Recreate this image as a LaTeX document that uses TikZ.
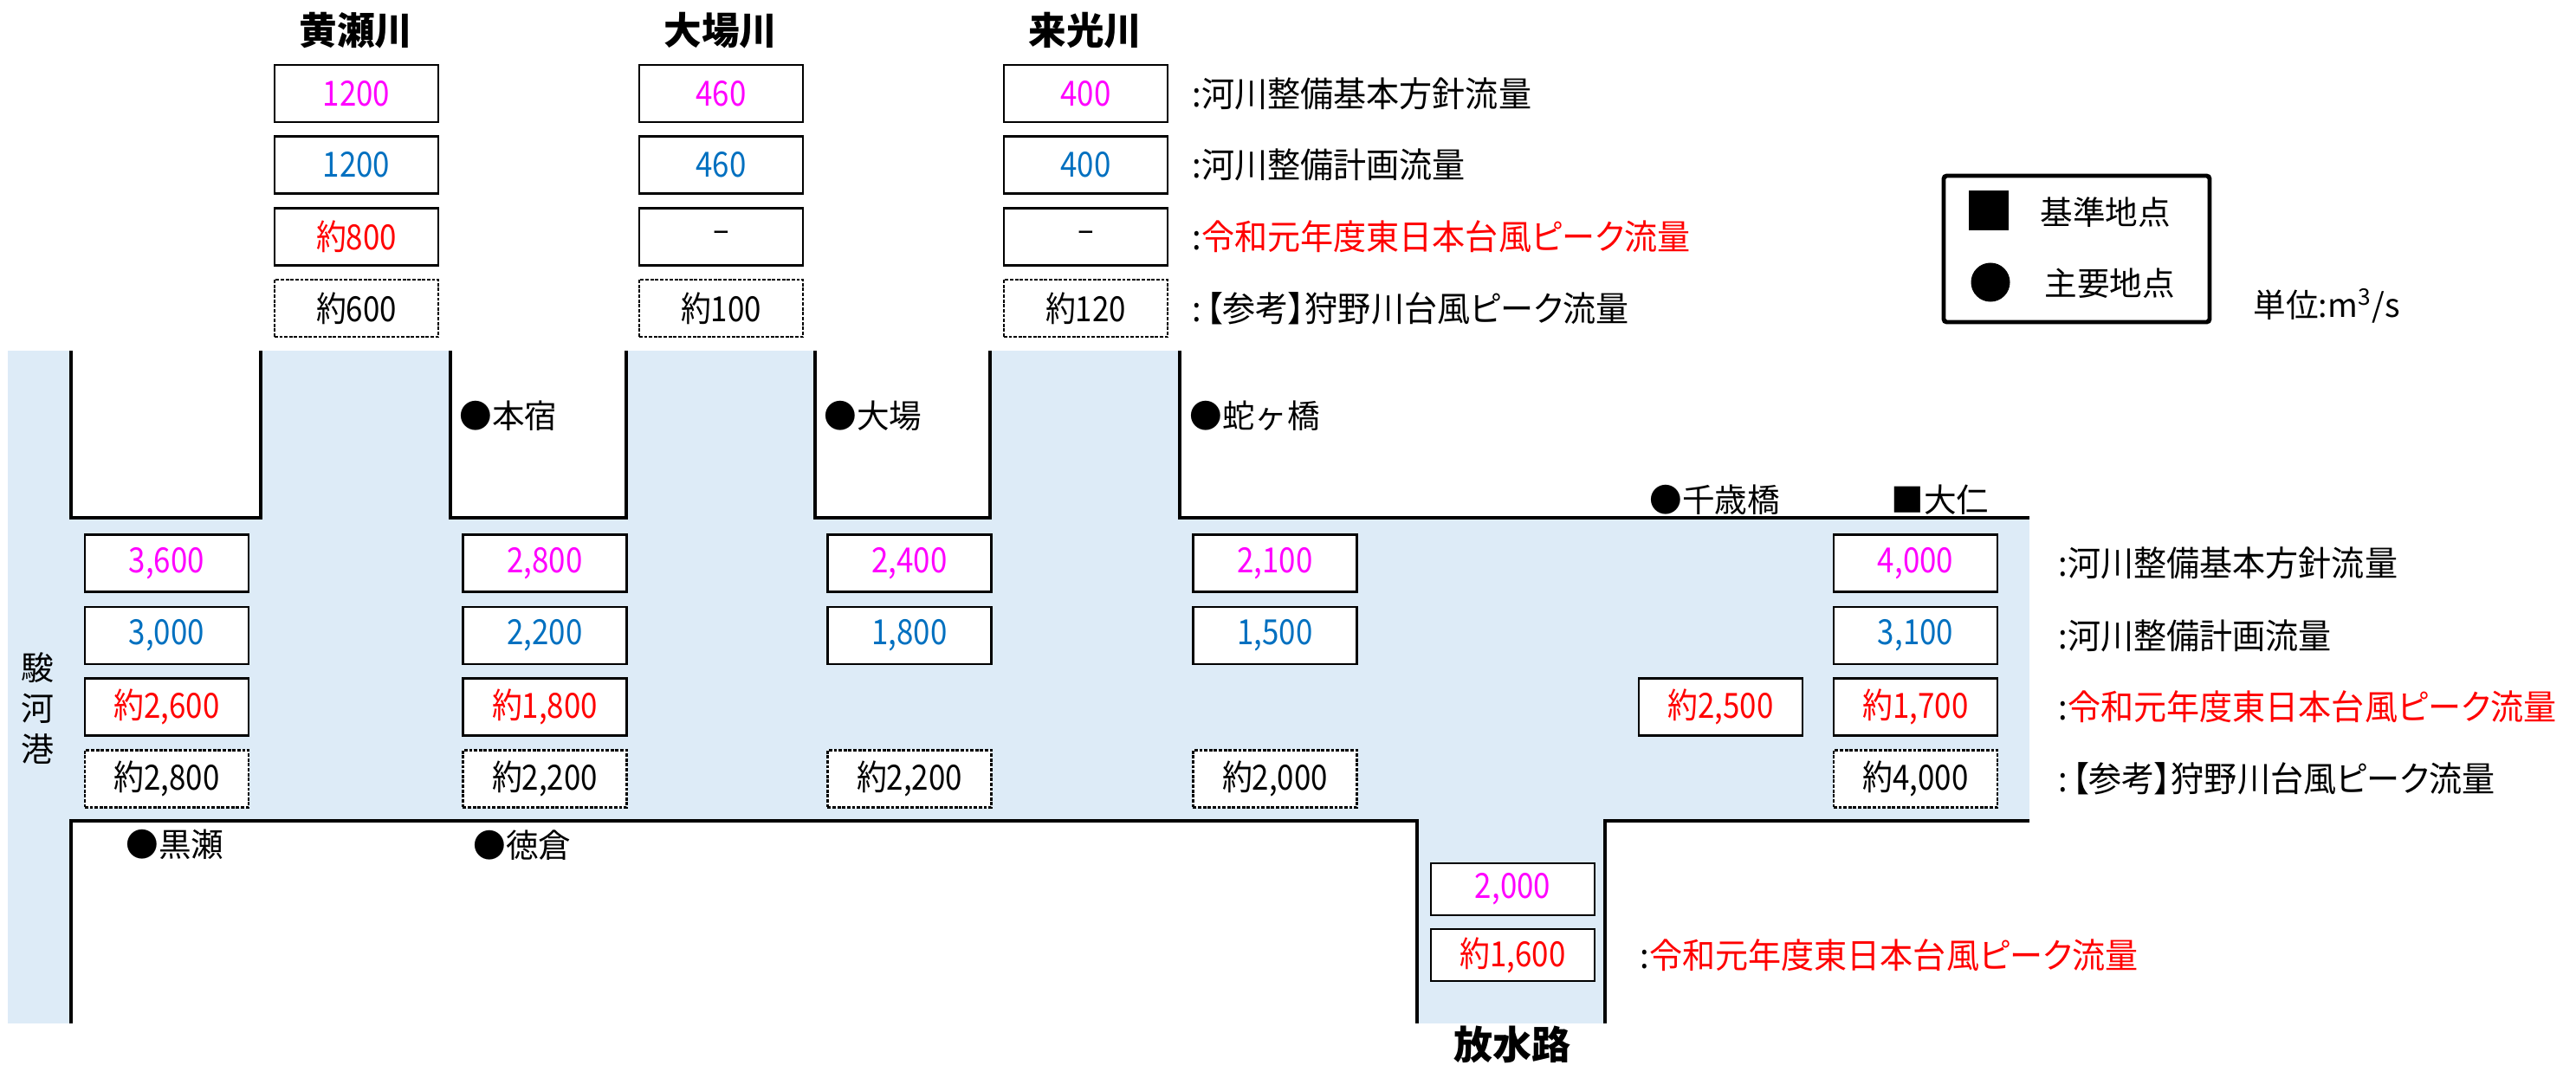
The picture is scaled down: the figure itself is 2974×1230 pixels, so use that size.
\documentclass[tikz,border=0pt]{standalone}
\usepackage{fontspec}
\setmainfont{Noto Sans CJK JP}
\newfontfamily\lblfam{Noto Sans CJK JP}[FakeStretch=0.95, RawFeature=+palt]
\newfontfamily\valfam{Noto Sans CJK JP}[FakeStretch=0.87]
\definecolor{mag}{HTML}{FF00FF}
\definecolor{pblue}{HTML}{0070C0}
\definecolor{pred}{HTML}{FF0000}
\definecolor{water}{HTML}{DDEBF7}
\newcommand\myval{\valfam\fontsize{11.4}{12}\selectfont}
\newcommand\mylbl{\lblfam\fontsize{11.4}{13}\selectfont}
\newcommand\mystn{\fontsize{10.7}{12}\selectfont}
\newcommand\myttl{\fontsize{12.4}{14}\selectfont\bfseries}
\tikzset{
  vbox/.style={draw=black, line width=0.8pt, fill=white, minimum width=1.89cm, minimum height=0.66cm, inner sep=0pt, font=\myval},
  dbox/.style={vbox, dash pattern=on 1.1pt off 0.5pt},
  sbox/.style={vbox, minimum height=0.60cm},
  wall/.style={line width=1.3pt},
  lbl/.style={anchor=west, inner sep=0pt, font=\mylbl},
  stn/.style={anchor=west, inner sep=0pt, font=\mystn},
  ttl/.style={inner sep=0pt, font=\myttl},
}
\begin{document}
\begin{tikzpicture}[x=0.01cm,y=-0.01cm]
\useasboundingbox (0,0) rectangle (2974,1230);
% water
\fill[water] (9,405) rectangle (2343,1182);
\fill[white] (82,405) rectangle (301,598);
\fill[white] (520,405) rectangle (723,598);
\fill[white] (941,405) rectangle (1143,598);
\fill[white] (1362,405) rectangle (2343,598);
\fill[white] (82,948) rectangle (1636,1182);
\fill[white] (1853,948) rectangle (2343,1182);
% walls
\draw[wall] (82,405) -- (82,598) -- (301,598) -- (301,405);
\draw[wall] (520,405) -- (520,598) -- (723,598) -- (723,405);
\draw[wall] (941,405) -- (941,598) -- (1143,598) -- (1143,405);
\draw[wall] (1362,405) -- (1362,598) -- (2343,598);
\draw[wall] (82,1182) -- (82,948) -- (1636,948) -- (1636,1182);
\draw[wall] (1853,1182) -- (1853,948) -- (2343,948);

% titles
\node[ttl] (tkise) at (411,35) {黄瀬川};
\node[ttl] (tooba) at (832,35) {大場川};
\node[ttl] (traiko) at (1253,35) {来光川};
\node[ttl, font=\fontsize{12.8}{14}\selectfont\bfseries] (thousui) at (1746,1206) {放水路};

% top boxes
\node[vbox, text=mag] (k1) at (411.5,108) {1200};
\node[vbox, text=pblue] (k2) at (411.5,190.5) {1200};
\node[vbox, text=pred] (k3) at (411.5,273.5) {約800};
\node[dbox] (k4) at (411.5,356) {約600};
\node[vbox, text=mag] (o1) at (832.5,108) {460};
\node[vbox, text=pblue] (o2) at (832.5,190.5) {460};
\node[vbox] (o3) at (832.5,273.5) {–};
\node[dbox] (o4) at (832.5,356) {約100};
\node[vbox, text=mag] (r1) at (1253.5,108) {400};
\node[vbox, text=pblue] (r2) at (1253.5,190.5) {400};
\node[vbox] (r3) at (1253.5,273.5) {–};
\node[dbox] (r4) at (1253.5,356) {約120};

% top labels
\node[lbl] (tl1) at (1376,108) {:河川整備基本方針流量};
\node[lbl] (tl2) at (1376,190.5) {:河川整備計画流量};
\node[lbl] (tl3) at (1376,273.5) {:\textcolor{pred}{令和元年度東日本台風ピーク流量}};
\node[lbl] (tl4) at (1376,356) {:\kern1.5pt【参考】狩野川台風ピーク流量};

% legend
\draw[line width=1.4pt, rounded corners=1pt] (2244,203) rectangle (2551,372);
\node[fill=black, inner sep=0pt, minimum size=0.46cm] (lsq) at (2296,243) {};
\node[fill=black, circle, inner sep=0pt, minimum size=0.45cm] (lci) at (2298,326) {};
\node[stn] (lt1) at (2355,245) {基準地点};
\node[stn] (lt2) at (2360,327) {主要地点};
\node[stn] (unit) at (2601,353) {単位:m\textsuperscript{3}/s};

% stations
\node[stn] (s1) at (530,480) {●本宿};
\node[stn] (s2) at (951,480) {●大場};
\node[stn] (s3) at (1373,480) {●蛇ヶ橋};
\node[stn] (s4) at (1904,577) {●千歳橋};
\node[stn] (s5) at (2183,577) {■大仁};
\node[stn] (s6) at (145,975) {●黒瀬};
\node[stn] (s7) at (546,976) {●徳倉};

% port
\node[inner sep=0pt, align=center, font=\fontsize{10.8}{13.4}\selectfont] (port) at (43,818) {駿\\河\\港};

% middle boxes
\node[vbox, text=mag] (a1) at (192.5,650.5) {3,600};
\node[vbox, text=pblue] (a2) at (192.5,734) {3,000};
\node[vbox, text=pred] (a3) at (192.5,816.5) {約2,600};
\node[dbox] (a4) at (192.5,899.5) {約2,800};
\node[vbox, text=mag] (b1) at (629,650.5) {2,800};
\node[vbox, text=pblue] (b2) at (629,734) {2,200};
\node[vbox, text=pred] (b3) at (629,816.5) {約1,800};
\node[dbox] (b4) at (629,899.5) {約2,200};
\node[vbox, text=mag] (c1) at (1050,650.5) {2,400};
\node[vbox, text=pblue] (c2) at (1050,734) {1,800};
\node[dbox] (c4) at (1050,899.5) {約2,200};
\node[vbox, text=mag] (d1) at (1472,650.5) {2,100};
\node[vbox, text=pblue] (d2) at (1472,734) {1,500};
\node[dbox] (d4) at (1472,899.5) {約2,000};
\node[vbox, text=pred] (e3) at (1986.5,816.5) {約2,500};
\node[vbox, text=mag] (f1) at (2211.5,650.5) {4,000};
\node[vbox, text=pblue] (f2) at (2211.5,734) {3,100};
\node[vbox, text=pred] (f3) at (2211.5,816.5) {約1,700};
\node[dbox] (f4) at (2211.5,899.5) {約4,000};

% right labels
\node[lbl] (rl1) at (2376,650.5) {:河川整備基本方針流量};
\node[lbl] (rl2) at (2376,734) {:河川整備計画流量};
\node[lbl] (rl3) at (2376,816.5) {:\textcolor{pred}{令和元年度東日本台風ピーク流量}};
\node[lbl] (rl4) at (2376,899.5) {:\kern1.5pt【参考】狩野川台風ピーク流量};

% discharge channel
\node[sbox, text=mag] (h1) at (1746.5,1027) {2,000};
\node[sbox, text=pred] (h2) at (1746.5,1103) {約1,600};
\node[lbl] (hl) at (1893,1103) {:\textcolor{pred}{令和元年度東日本台風ピーク流量}};
\end{tikzpicture}
\end{document}
